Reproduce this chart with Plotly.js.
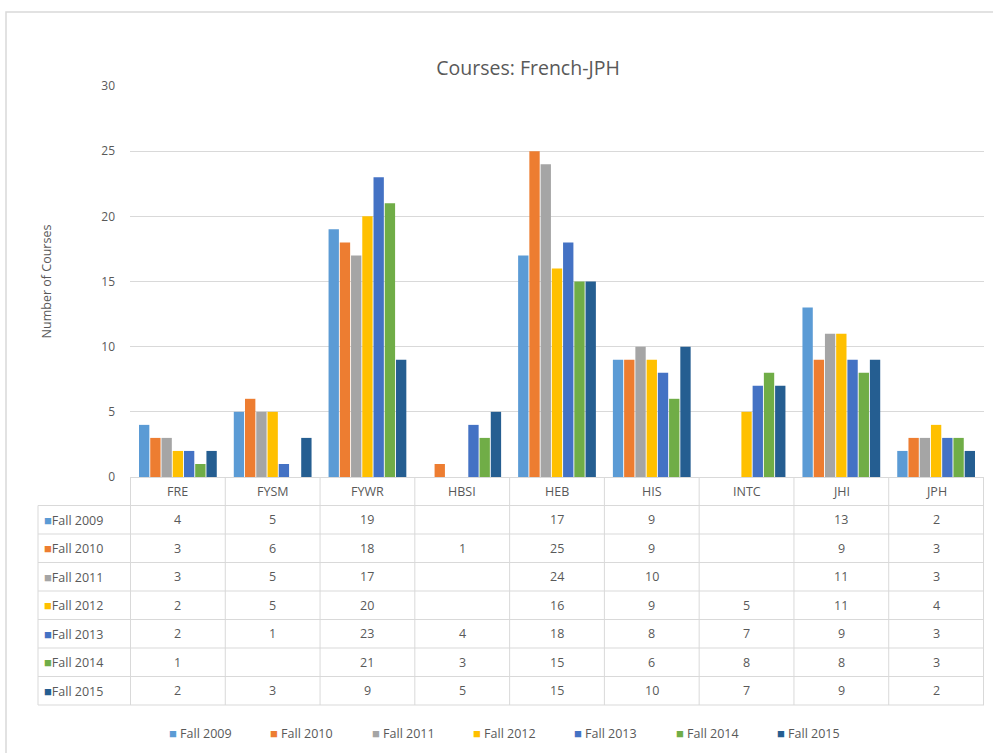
<!DOCTYPE html>
<html><head><meta charset="utf-8">
<script src="https://cdn.plot.ly/plotly-3.0.1.min.js"></script>
<style>html,body{margin:0;padding:0;background:#fff;}#chart{width:993px;height:753px;}</style>
</head><body><div id="chart"></div>
<script>
const categories = ["FRE","FYSM","FYWR","HBSI","HEB","HIS","INTC","JHI","JPH"];
const seriesNames = ["Fall 2009","Fall 2010","Fall 2011","Fall 2012","Fall 2013","Fall 2014","Fall 2015"];
const fall2009 = [4,5,19,null,17,9,null,13,2];
const fall2010 = [3,6,18,1,25,9,null,9,3];
const fall2011 = [3,5,17,null,24,10,null,11,3];
const fall2012 = [2,5,20,null,16,9,5,11,4];
const fall2013 = [2,1,23,4,18,8,7,9,3];
const fall2014 = [1,null,21,3,15,6,8,8,3];
const fall2015 = [2,3,9,5,15,10,7,9,2];
const seriesValues = [fall2009,fall2010,fall2011,fall2012,fall2013,fall2014,fall2015];
const colors = ["#5B9BD5","#ED7D31","#A5A5A5","#FFC000","#4472C4","#70AD47","#255E91"];

const W = 993, H = 753;
const mL = 130, mR = 9, mT = 86, mB = 276;
const plotW = W - mL - mR, plotH = H - mT - mB;
const px2x = p => (p - mL) / plotW;
const py2y = p => (H - mB - p) / plotH;

const textColor = "#595959";
const lineColor = "#d9d9d9";
const font = "Open Sans, Noto Sans, sans-serif";

const traces = seriesNames.map((n, i) => ({
  type: "bar", name: n, x: categories, y: seriesValues[i],
  marker: {color: colors[i]}, hoverinfo: "x+y+name"
}));

// table geometry
const tableTop = 477, rowH = 28.5, nRows = seriesNames.length + 1;
const tableBottom = tableTop + rowH * nRows;
const leftX = 38;
const shapes = [];
shapes.push({type:"rect", xref:"paper", yref:"paper", x0:px2x(6), x1:px2x(1005), y0:py2y(12), y1:py2y(765), line:{color:lineColor, width:1.5}, layer:"below"});
for (let r = 1; r <= nRows; r++) {
  const yy = py2y(tableTop + r * rowH);
  shapes.push({type:"line", xref:"paper", yref:"paper", x0:px2x(leftX), x1:1, y0:yy, y1:yy, line:{color:lineColor, width:1}});
}
for (let c = 0; c <= categories.length; c++) {
  shapes.push({type:"line", xref:"x", yref:"paper", x0:c-0.5, x1:c-0.5, y0:0, y1:py2y(tableBottom), line:{color:lineColor, width:1}});
}
shapes.push({type:"line", xref:"paper", yref:"paper", x0:px2x(leftX), x1:px2x(leftX), y0:py2y(tableTop+rowH), y1:py2y(tableBottom), line:{color:lineColor, width:1}});

const annotations = [];
const cellFont = {size:12.5, color:textColor, family:font};
categories.forEach(c => annotations.push({xref:"x", yref:"paper", x:c, y:py2y(tableTop + rowH/2), xanchor:"center", yanchor:"middle", text:c, showarrow:false, font:cellFont}));
seriesNames.forEach((n, i) => {
  const yc = py2y(tableTop + rowH*(i+1) + rowH/2);
  annotations.push({xref:"paper", yref:"paper", x:px2x(42), y:yc, xanchor:"left", yanchor:"middle", showarrow:false,
    text:`<span style="color:${colors[i]};font-size:13px">■</span>${n}`, font:cellFont});
  seriesValues[i].forEach((v, j) => {
    if (v === null) return;
    annotations.push({xref:"x", yref:"paper", x:categories[j], y:yc, xanchor:"center", yanchor:"middle", text:String(v), showarrow:false, font:cellFont});
  });
});
// legend row (drawn as text with colored squares)
const legendStart = 167, legendStep = 101.3, legendY = 733;
seriesNames.forEach((n, i) => {
  annotations.push({xref:"paper", yref:"paper", x:px2x(legendStart + i*legendStep), y:py2y(legendY), xanchor:"left", yanchor:"middle", showarrow:false,
    text:`<span style="color:${colors[i]};font-size:13px">■</span> ${n}`, font:cellFont});
});

const layout = {
  width: W, height: H,
  margin: {l:mL, r:mR, t:mT, b:mB, autoexpand:false},
  paper_bgcolor: "#fff", plot_bgcolor: "#fff",
  font: {family: font, color: textColor, size: 12},
  title: {text: "Courses: French-JPH", font:{size:19.5, color:textColor, family:font}, x: px2x(528), xref:"paper", xanchor:"center", y: 1 - 68/H, yref:"container", yanchor:"middle"},
  barmode: "group", bargap: 0.17, bargroupgap: 0.08,
  xaxis: {type:"category", showticklabels:false, showgrid:false, zeroline:false, showline:false, ticks:""},
  yaxis: {range:[0,30], dtick:5, showgrid:true, gridcolor:lineColor, zeroline:true, zerolinecolor:lineColor, showline:false,
          tickfont:{size:12, color:textColor}, ticklabelstandoff:14, automargin:false,
          title:{text:"Number of Courses", font:{size:12.5, color:textColor}, standoff:46}},
  showlegend: false,
  shapes: shapes, annotations: annotations
};

Plotly.newPlot("chart", traces, layout, {displayModeBar:false, staticPlot:true});
</script></body></html>
